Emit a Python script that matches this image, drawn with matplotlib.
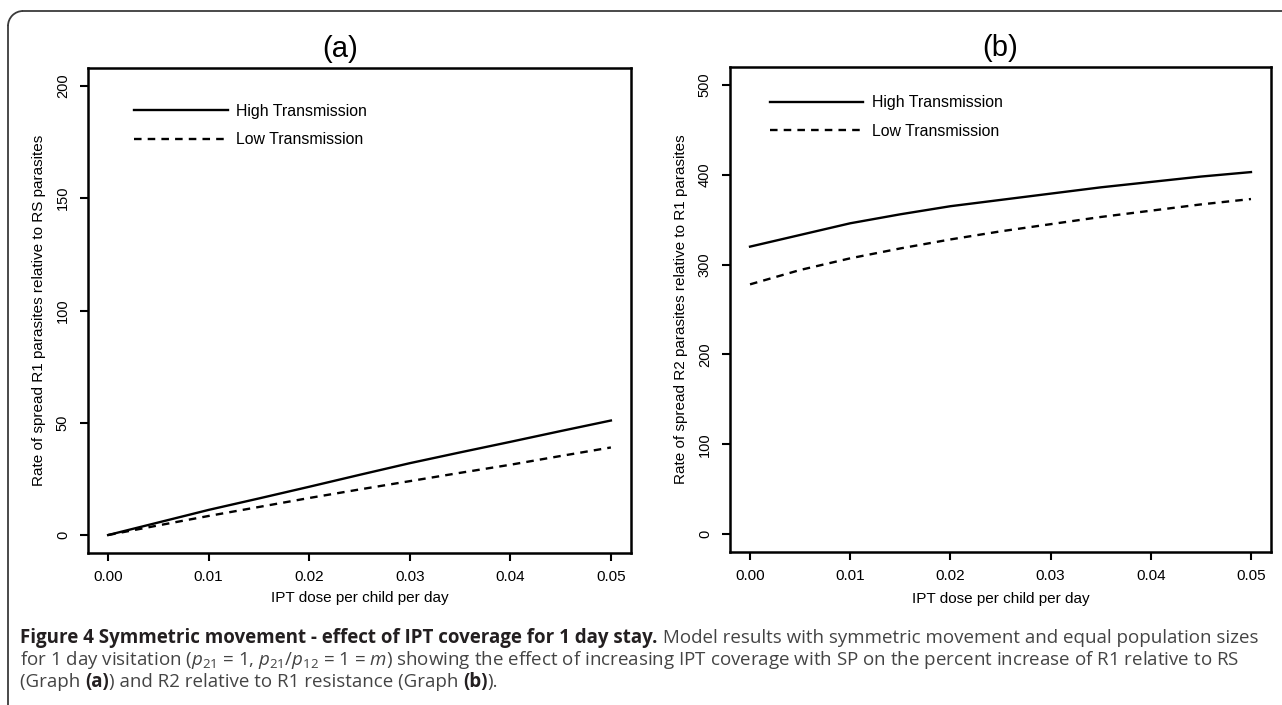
import matplotlib
matplotlib.use("Agg")
import matplotlib.pyplot as plt
from matplotlib.patches import Arc

# data
dose = [0.0, 0.005, 0.01, 0.015, 0.02, 0.025, 0.03, 0.035, 0.04, 0.045, 0.05]
a_high = [0.0, 5.6, 11.2, 16.3, 21.5, 26.8, 32.0, 36.8, 41.5, 46.3, 51.0]
a_low = [0.0, 4.3, 8.5, 12.5, 16.5, 20.3, 24.0, 27.7, 31.3, 35.2, 39.0]
b_high = [320, 333, 346, 356, 365, 372, 379, 386, 392, 398, 403]
b_low = [278, 294, 307, 318, 328, 337, 345, 353, 360, 367, 373]

xticks = [0.00, 0.01, 0.02, 0.03, 0.04, 0.05]
a_yticks = [0, 50, 100, 150, 200]
b_yticks = [0, 100, 200, 300, 400, 500]
series_labels = ["High Transmission", "Low Transmission"]

W, H = 1282, 705
REG = ["Liberation Sans", "DejaVu Sans"]
CAP = ["Open Sans", "DejaVu Sans"]

plt.rcParams["mathtext.fontset"] = "custom"
plt.rcParams["mathtext.rm"] = "Open Sans"
plt.rcParams["mathtext.it"] = "Open Sans:italic"

fig = plt.figure(figsize=(W / 100, H / 100), dpi=100)


def panel(box, high, low, yticks, ylim, ylabel, title, title_x, leg_xy, xlab_y):
    l, t, r, b = box
    ax = fig.add_axes([l / W, 1 - b / H, (r - l) / W, (b - t) / H])
    ax.plot(dose, high, color="black", lw=1.7, label=series_labels[0])
    ax.plot(dose, low, color="black", lw=1.7, dashes=(3.2, 2.6), label=series_labels[1])
    ax.set_xlim(-0.002, 0.052)
    ax.set_ylim(*ylim)
    ax.set_xticks(xticks)
    ax.set_xticklabels(["%.2f" % v for v in xticks], family=REG, fontsize=11)
    ax.set_yticks(yticks)
    ax.set_yticklabels([str(v) for v in yticks], family=REG, fontsize=10.5,
                       rotation=90, va="center")
    ax.tick_params(length=6, width=1.5, color="black")
    ax.tick_params(axis="x", pad=6)
    ax.tick_params(axis="y", pad=7)
    for s in ax.spines.values():
        s.set_linewidth(1.8)
    ax.set_xlabel("IPT dose per child per day", family=REG, fontsize=11)
    ax.xaxis.set_label_coords(0.5, -(xlab_y - b) / (b - t))
    ax.xaxis.label.set_va("center")
    ax.set_ylabel(ylabel, family=REG, fontsize=11)
    ax.yaxis.set_label_coords(-49 / (r - l), 0.5)
    ax.yaxis.label.set_va("center")
    ax.text((title_x - l) / (r - l), 1 + 19 / (b - t), title, transform=ax.transAxes,
            ha="center", va="center", family=REG, fontsize=21)
    ax.legend(loc="upper left", bbox_to_anchor=leg_xy, frameon=False,
              prop={"family": REG, "size": 11.4}, handlelength=5.9,
              handletextpad=0.55, labelspacing=0.85, borderpad=0, borderaxespad=0)
    return ax


panel((88, 68, 631, 553), a_high, a_low, a_yticks, (-8, 208),
      "Rate of spread R1 parasites relative to RS parasites", "(a)", 340,
      (0.085, 0.926), 598)
panel((730, 67, 1271, 552), b_high, b_low, b_yticks, (-20, 520),
      "Rate of spread R2 parasites relative to R1 parasites", "(b)", 1000,
      (0.074, 0.942), 599)

# frame around the figure (top and left with rounded corner)
fc = "#3a3a3a"
r = 15
fig.add_artist(plt.Line2D([(8 + r) / W, 1], [1 - 11 / H] * 2, color=fc, lw=1.3))
fig.add_artist(plt.Line2D([8 / W] * 2, [1 - (11 + r) / H, 0], color=fc, lw=1.3))
fig.add_artist(Arc(((8 + r) / W, 1 - (11 + r) / H), 2 * r / W, 2 * r / H,
                   theta1=90, theta2=180, color=fc, lw=1.3, transform=fig.transFigure))

# caption
renderer = fig.canvas.get_renderer()
cap_size = 13.5


def put(parts, x, y):
    for s, w in parts:
        t = fig.text(x / W, 1 - y / H, s, fontweight=w, family=CAP, fontsize=cap_size,
                     color="#231f20" if w == "bold" else "#444444", va="baseline", ha="left")
        x += t.get_window_extent(renderer).width


put([("Figure 4 Symmetric movement - effect of IPT coverage for 1 day stay.", "bold"),
     (" Model results with symmetric movement and equal population sizes", "normal")], 20, 643)
put([("for 1 day visitation ($p_{21}$ = 1, $p_{21}$/$p_{12}$ = 1 = $m$) showing the effect of "
      "increasing IPT coverage with SP on the percent increase of R1 relative to RS", "normal")], 20, 665)
put([("(Graph ", "normal"), ("(a)", "bold"), (") and R2 relative to R1 resistance (Graph ", "normal"),
     ("(b)", "bold"), (").", "normal")], 20, 687)

fig.savefig("out.png", dpi=100)
